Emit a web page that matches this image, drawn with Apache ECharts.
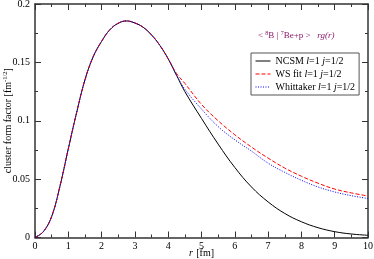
<!DOCTYPE html>
<html><head><meta charset="utf-8">
<script src="https://cdn.jsdelivr.net/npm/echarts@6/dist/echarts.min.js"></script>
<style>html,body{margin:0;padding:0;background:#fff}#c{width:374px;height:259px}</style>
</head><body><div id="c"></div>
<script>
// shared rising part (all three curves coincide)
const rShared = [0,0.25,0.5,0.75,1.0,1.25,1.5,1.75,2.0,2.25,2.5,2.75,3.0,3.25,3.5,3.75,4.0];
const vShared = [0,0.005,0.018,0.044,0.076,0.107,0.135,0.155,0.168,0.178,0.1835,0.1855,0.1837,0.180,0.1735,0.1645,0.153];
// tails
const rTail = [4.25,4.5,5.0,5.5,6.0,6.5,7.0,7.5,8.0,8.5,9.0,9.5,10.0];
const ncsmTail = [0.139,0.125,0.102,0.080,0.060,0.0433,0.0305,0.0206,0.0135,0.0084,0.005,0.003,0.0019];
const wsTail   = [0.1405,0.132,0.114,0.100,0.088,0.0775,0.068,0.0595,0.0525,0.0465,0.0415,0.0382,0.0355];
const whitTail = [0.139,0.127,0.110,0.095,0.0837,0.074,0.0637,0.0558,0.049,0.0433,0.039,0.0358,0.0334];
const xTicks = [0,1,2,3,4,5,6,7,8,9,10];
const yTicks = [0,0.05,0.1,0.15,0.2];

function build(tail){
  const pts = rShared.map((r,i)=>[r,vShared[i]]);
  rTail.forEach((r,i)=>pts.push([r,tail[i]]));
  return pts;
}
const FONT = 'Liberation Serif';
const AX = '#333';
const chart = echarts.init(document.getElementById('c'));
const baseX = {
  type:'value', min:0, max:10, interval:1,
  axisLine:{show:true, onZero:false, lineStyle:{color:AX,width:1.5}},
  axisTick:{show:true, inside:true, length:6, lineStyle:{color:AX,width:1}},
  minorTick:{show:true, splitNumber:2, length:3, lineStyle:{color:AX,width:1}},
  splitLine:{show:false}
};
const baseY = {
  type:'value', min:0, max:0.2, interval:0.05,
  axisLine:{show:true, onZero:false, lineStyle:{color:AX,width:1.5}},
  axisTick:{show:true, inside:true, length:6, lineStyle:{color:AX,width:1}},
  minorTick:{show:true, splitNumber:2, length:3, lineStyle:{color:AX,width:1}},
  splitLine:{show:false}
};
const lbl = (n)=>'{n|'+n+' }{i|l}{n|=1 }{i|j}{n|=1/2}';
chart.setOption({
  animation:false,
  grid:{left:35, right:6, top:4, bottom:21.5, containLabel:false, outerBoundsMode:'none'},
  xAxis:[
    Object.assign({}, baseX, {position:'bottom',
      axisLabel:{show:true, color:'#000', fontFamily:FONT, fontSize:10, margin:4,
        formatter:v=>xTicks.includes(v)?String(v):''},
      name:'{i|r} {n|[fm]}', nameLocation:'middle', nameGap:10, nameMoveOverlap:false,
      nameTextStyle:{rich:{i:{fontFamily:FONT,fontSize:10,fontStyle:'italic',color:'#000'},n:{fontFamily:FONT,fontSize:10,color:'#000'}}}
    }),
    Object.assign({}, baseX, {position:'top', axisLabel:{show:false}})
  ],
  yAxis:[
    Object.assign({}, baseY, {position:'left',
      axisLabel:{show:true, color:'#000', fontFamily:FONT, fontSize:10, margin:5,
        formatter:v=>{const t=yTicks.find(x=>Math.abs(x-v)<1e-9); return t===undefined?'':String(t);}},
      name:'{a|cluster form factor [fm}{s|-1/2}{a|]}', nameLocation:'middle', nameGap:20, nameRotate:90, nameMoveOverlap:false,
      nameTextStyle:{rich:{a:{fontFamily:FONT,fontSize:10,color:'#000',lineHeight:13},s:{fontFamily:FONT,fontSize:6.5,color:'#000',verticalAlign:'top',lineHeight:13}}}
    }),
    Object.assign({}, baseY, {position:'right', axisLabel:{show:false}})
  ],
  legend:{
    orient:'vertical', left:251, top:53,
    backgroundColor:'#fff',
    borderColor:'#555', borderWidth:1, padding:[3,4,3,4],
    itemWidth:15, itemHeight:8, itemGap:3,
    itemStyle:{opacity:0},
    lineStyle:{width:1},
    textStyle:{fontFamily:FONT,fontSize:10,color:'#000',
      rich:{n:{fontFamily:FONT,fontSize:10,color:'#000'},i:{fontFamily:FONT,fontSize:10,fontStyle:'italic',color:'#000'}}},
    formatter:(name)=>lbl(name),
    data:['NCSM','WS fit','Whittaker']
  },
  graphic:[{
    type:'text', left:258, top:30,
    style:{
      text:'{a|< }{s|8}{a|B | }{s|7}{a|Be+p > }{a|  }{i|rg(r)}',
      rich:{
        a:{fontFamily:FONT,fontSize:9,fill:'#8b1a6b',lineHeight:12},
        s:{fontFamily:FONT,fontSize:6,fill:'#8b1a6b',verticalAlign:'top',lineHeight:12},
        i:{fontFamily:FONT,fontSize:9,fontStyle:'italic',fill:'#8b1a6b',lineHeight:12}
      }
    }
  }],
  series:[
    {name:'NCSM', type:'line', data:build(ncsmTail), smooth:0.4, showSymbol:false, symbol:'none',
     lineStyle:{color:'#000',width:1,type:'solid'}, itemStyle:{color:'#000'}, z:3},
    {name:'WS fit', type:'line', data:build(wsTail), smooth:0.4, showSymbol:false, symbol:'none',
     lineStyle:{color:'#ff0000',width:1,type:[4,2]}, itemStyle:{color:'#ff0000'}, z:4},
    {name:'Whittaker', type:'line', data:build(whitTail), smooth:0.4, showSymbol:false, symbol:'none',
     lineStyle:{color:'#0000ff',width:1,type:[1,1.5]}, itemStyle:{color:'#0000ff'}, z:5}
  ]
});
</script></body></html>
